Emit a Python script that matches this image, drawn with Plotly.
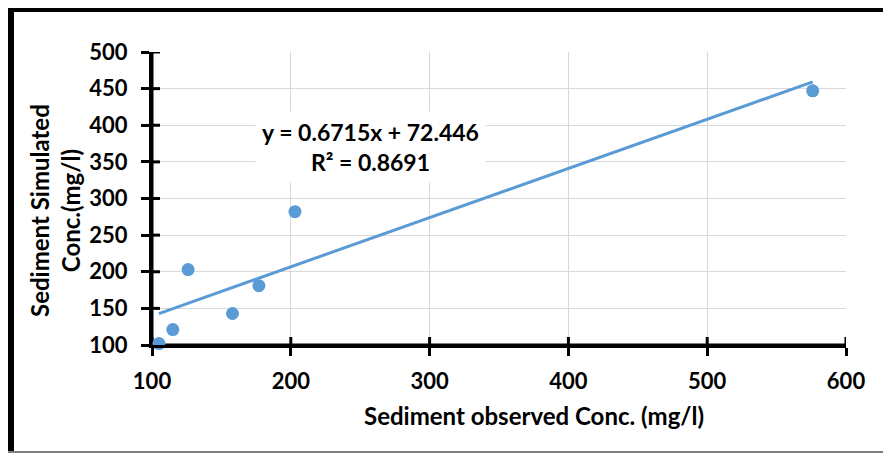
import plotly.graph_objects as go

# ---- data ----
observed = [105, 115, 126, 158, 177, 203, 576]
simulated = [102, 121, 203, 143, 181, 282, 447]
trend_slope = 0.6715
trend_intercept = 72.446
r_squared = 0.8691
x_ticks = [100, 200, 300, 400, 500, 600]
y_ticks = [100, 150, 200, 250, 300, 350, 400, 450, 500]
x_range = [100, 600]
y_range = [100, 500]

# page body has an 8px margin; work in screen pixels and convert
OFF = 8
W, H = 891 - OFF, 454 - OFF
L, R, T, B = 152 - OFF, 45, 52 - OFF, 109
PW, PH = W - L - R, H - T - B

def px(xs):
    return (xs - OFF - L) / PW

def py(ys):
    return (H - B - (ys - OFF)) / PH

BLUE = "#5B9BD5"
FONT = "Lato"
tick_font = dict(family=FONT, size=22, color="black", weight="bold")

x_line = [min(observed), max(observed)]
y_line = [trend_slope * v + trend_intercept for v in x_line]

fig = go.Figure()
fig.add_trace(go.Scatter(x=x_line, y=y_line, mode="lines",
                         line=dict(color=BLUE, width=3), showlegend=False,
                         hoverinfo="skip"))
fig.add_trace(go.Scatter(x=observed, y=simulated, mode="markers",
                         marker=dict(color=BLUE, size=13), cliponaxis=False,
                         showlegend=False))

main_axis = dict(showline=True, linecolor="black", linewidth=3, mirror=False,
                 ticks="outside", ticklen=8, tickwidth=3, tickcolor="black",
                 showgrid=True, gridcolor="#D9D9D9", gridwidth=1,
                 zeroline=False, showticklabels=True, tickfont=tick_font)

fig.update_layout(
    width=W, height=H,
    margin=dict(l=L, r=R, t=T, b=B),
    paper_bgcolor="white", plot_bgcolor="white",
    xaxis=dict(range=x_range, tickvals=x_ticks, ticklabelstandoff=7, **main_axis),
    yaxis=dict(range=y_range, tickvals=y_ticks, ticklabelstandoff=9, **main_axis),
    showlegend=False,
)

# axis lines and crossing tick marks, anchored to the axes' own scales
axis_style = dict(color="black", width=3)
fig.add_shape(type="line", xref="x", yref="y", x0=x_range[0], x1=x_range[1],
              y0=y_range[0], y1=y_range[0], line=axis_style, layer="between")
fig.add_shape(type="line", xref="x", yref="y", x0=x_range[0], x1=x_range[0],
              y0=y_range[0], y1=y_range[1], line=axis_style, layer="between")
for t in x_ticks:
    fig.add_shape(type="line", xref="x", yref="y", x0=t, x1=t,
                  ysizemode="pixel", yanchor=y_range[0], y0=-8, y1=8,
                  line=axis_style, layer="between")
for t in y_ticks:
    fig.add_shape(type="line", xref="x", yref="y", y0=t, y1=t,
                  xsizemode="pixel", xanchor=x_range[0], x0=-8, x1=8,
                  line=axis_style, layer="between")

title_font = dict(family=FONT, size=24, color="black", weight="bold")
fig.add_annotation(text="Sediment observed Conc. (mg/l)", xref="paper", yref="paper",
                   x=px(534), y=py(415), showarrow=False, font=title_font,
                   xanchor="center", yanchor="middle")
fig.add_annotation(text="Sediment Simulated<br>Conc.(mg/l)", xref="paper", yref="paper",
                   x=px(55), y=py(211), showarrow=False, font=title_font,
                   textangle=-90, xanchor="center", yanchor="middle")
fig.add_annotation(text=f"y = {trend_slope}x + {trend_intercept}<br>R² = {r_squared}",
                   xref="paper", yref="paper", x=px(370), y=py(147),
                   showarrow=False,
                   font=dict(family=FONT, size=23, color="black", weight="bold"),
                   bgcolor="white", borderpad=6, xanchor="center", yanchor="middle")

# outer frame (screen pixels)
for (x0, y0, x1, y1, c) in [(8, 6, 890, 12, "black"), (8, 6, 14, 453, "black"),
                            (887, 6, 890, 453, "black"), (8, 451, 890, 453, "#808080")]:
    fig.add_shape(type="rect", xref="paper", yref="paper",
                  x0=px(x0), x1=px(x1), y0=py(y0), y1=py(y1),
                  fillcolor=c, line=dict(width=0), layer="above")

fig.write_html("out.html", config={"displayModeBar": False})
